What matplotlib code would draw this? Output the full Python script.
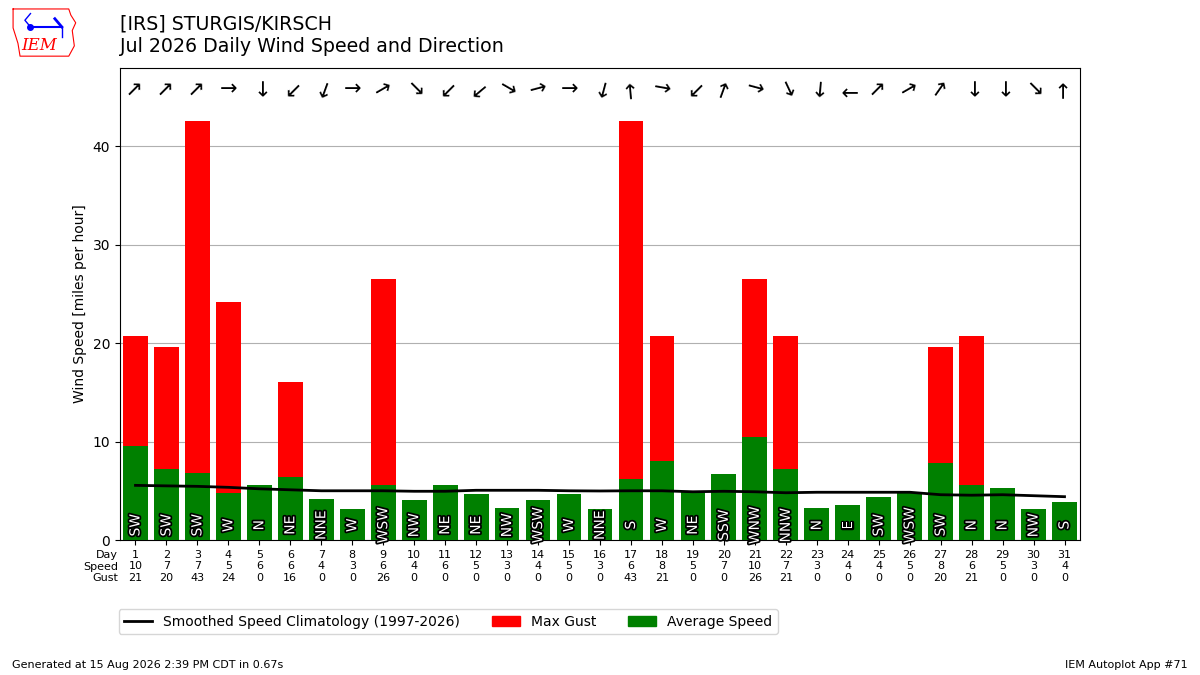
import matplotlib
matplotlib.use("Agg")
import matplotlib.pyplot as plt
import matplotlib.patheffects as PathEffects
from matplotlib.lines import Line2D
from matplotlib.patches import Patch

days = list(range(1, 32))
avg_speed = [9.5, 7.2, 6.8, 4.8, 5.6, 6.4, 4.2, 3.2, 5.6, 4.1, 5.6, 4.7, 3.3, 4.1, 4.7, 3.1,
             6.2, 8.0, 4.9, 6.7, 10.5, 7.2, 3.3, 3.6, 4.4, 4.8, 7.8, 5.6, 5.3, 3.2, 3.9]
max_gust = [20.7, 19.6, 42.6, 24.2, 0, 16.1, 0, 0, 26.5, 0, 0, 0, 0, 0, 0, 0,
            42.6, 20.7, 0, 0, 26.5, 20.7, 0, 0, 0, 0, 19.6, 20.7, 0, 0, 0]
speed_lbl = [10, 7, 7, 5, 6, 6, 4, 3, 6, 4, 6, 5, 3, 4, 5, 3, 6, 8, 5, 7, 10, 7, 3, 4, 4, 5, 8, 6, 5, 3, 4]
gust_lbl = [21, 20, 43, 24, 0, 16, 0, 0, 26, 0, 0, 0, 0, 0, 0, 0, 43, 21, 0, 0, 26, 21, 0, 0, 0, 0, 20, 21, 0, 0, 0]
dir_txt = ["SW", "SW", "SW", "W", "N", "NE", "NNE", "W", "WSW", "NW", "NE", "NE", "NW", "WSW", "W", "NNE",
           "S", "W", "NE", "SSW", "WNW", "NNW", "N", "E", "SW", "WSW", "SW", "N", "N", "NW", "S"]
dir_deg = [225, 225, 225, 270, 0, 45, 20, 270, 240, 315, 45, 50, 300, 255, 270, 15,
           175, 280, 45, 200, 285, 335, 5, 90, 225, 240, 215, 0, 0, 315, 180]
climo = [5.55, 5.5, 5.45, 5.35, 5.2, 5.1, 5.0, 5.0, 5.0, 4.95, 4.95, 5.05, 5.05, 5.05, 5.0, 4.98,
         5.0, 5.0, 4.9, 4.95, 4.9, 4.8, 4.85, 4.85, 4.85, 4.85, 4.6, 4.55, 4.6, 4.5, 4.4]

fig = plt.figure(figsize=(12, 6.75), dpi=100)
ax = fig.add_axes([0.1, 0.2, 0.8, 0.7])

ax.bar(days, max_gust, width=0.8, color="r", zorder=2)
ax.bar(days, avg_speed, width=0.8, color="g", zorder=3)
ax.plot(days, climo, color="k", lw=2, zorder=4)

for d, lbl, deg in zip(days, dir_txt, dir_deg):
    txt = ax.text(d, 1.5, lbl, rotation=90, ha="center", va="center",
                  color="white", fontsize=10, zorder=5)
    txt.set_path_effects([PathEffects.withStroke(linewidth=2.5, foreground="k")])
    # arrow points where the wind is blowing to
    ax.text(d, 45.8, "\u2192", rotation=(-90 - deg) % 360, rotation_mode="anchor",
            ha="center", va="center", fontsize=15, zorder=5)

ax.set_xlim(0.5, 31.5)
ax.set_ylim(0, 48)
ax.set_xticks(days)
ax.set_xticklabels([f"{d}\n{s}\n{g}" for d, s, g in zip(days, speed_lbl, gust_lbl)], fontsize=8)
ax.text(-0.002, -0.021, "Day\nSpeed\nGust", transform=ax.transAxes, ha="right", va="top", fontsize=8)
ax.set_ylabel("Wind Speed [miles per hour]")
ax.grid(axis="y", zorder=0)
ax.set_axisbelow(True)

handles = [Line2D([], [], color="k", lw=2, label="Smoothed Speed Climatology (1997-2026)"),
           Patch(color="r", label="Max Gust"), Patch(color="g", label="Average Speed")]
fig.legend(handles=handles, loc="center left", bbox_to_anchor=(0.093, 0.079), ncol=3,
           columnspacing=2.3)

fig.text(0.1, 0.979, "[IRS] STURGIS/KIRSCH\nJul 2026 Daily Wind Speed and Direction",
         ha="left", va="top", fontsize=13.7, linespacing=1.25)
fig.text(0.01, 0.008, "Generated at 15 Aug 2026 2:39 PM CDT in 0.67s", fontsize=8, va="bottom")
fig.text(0.99, 0.008, "IEM Autoplot App #71", fontsize=8, ha="right", va="bottom")

# rough stand-in for the IEM logo
lax = fig.add_axes([0.008, 0.913, 0.058, 0.076])
lax.axis("off")
lax.set_xlim(0, 1)
lax.set_ylim(0, 1)
lax.plot([0.05, 0.85, 0.88, 0.95, 0.9, 0.93, 0.85, 0.15, 0.12, 0.05, 0.05],
         [0.97, 0.97, 0.85, 0.7, 0.55, 0.25, 0.05, 0.05, 0.3, 0.6, 0.97], color="r", lw=0.8)
lax.plot([0.3, 0.75], [0.62, 0.62], color="b", lw=1.5)
lax.plot([0.3], [0.62], "o", color="b", ms=4)
lax.plot([0.3, 0.22, 0.3], [0.62, 0.75, 0.88], color="b", lw=1)
lax.plot([0.65, 0.75], [0.78, 0.62], color="b", lw=2)
lax.plot([0.75, 0.75], [0.62, 0.42], color="b", lw=1)
lax.text(0.42, 0.25, "IEM", color="r", fontsize=12, family="DejaVu Serif", style="italic",
         ha="center", va="center")

fig.savefig("out.png")
